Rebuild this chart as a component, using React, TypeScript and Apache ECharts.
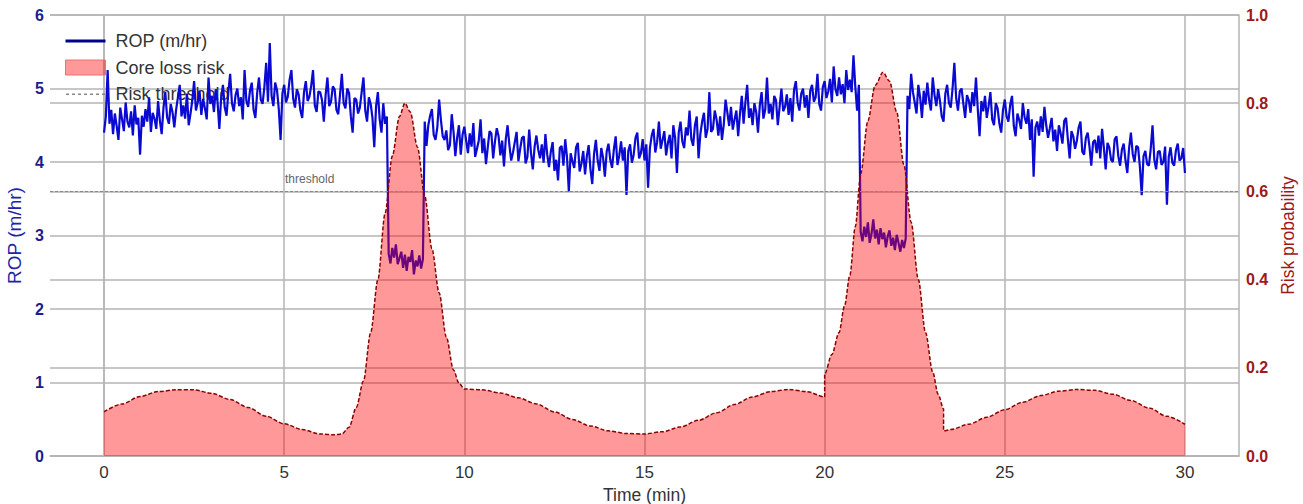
import React, { useEffect, useRef } from "react";
import * as echarts from "echarts";

// ROP samples every 0.05 min, split in segments (m/hr)
const ROP_STEP = 0.05;
const ropBefore1 = [
  4.40, 4.62, 5.25, 4.52, 4.71, 4.38, 4.66, 4.49, 4.30, 4.74,
  4.58, 4.42, 4.81, 4.55, 4.47, 4.69, 4.36, 4.77, 4.51, 4.60,
  4.10, 4.63, 4.48, 4.72, 4.55, 4.88, 4.41, 4.67, 4.59, 4.45,
  4.83, 4.56, 4.38, 4.74, 4.95, 4.61, 4.52, 4.79, 4.68, 4.47,
  4.71, 4.88, 5.05, 4.62, 4.77, 4.59, 4.93, 4.50, 4.66, 4.84,
  5.10, 4.70, 4.81, 4.97, 4.64, 4.86, 4.73, 4.58, 5.15, 4.79,
  4.90, 4.68, 4.99, 4.82, 4.45, 4.87, 5.05, 4.74, 4.63, 4.95,
  5.20, 4.80, 4.69, 4.91, 5.00, 4.76, 4.88, 4.58, 5.25, 4.83,
  4.75, 4.97, 5.08, 4.71, 4.60, 4.94, 5.15, 4.85, 4.79, 5.02,
  5.35, 4.82, 5.62, 4.90, 4.76, 5.08, 4.98, 4.72, 4.30, 4.93,
  5.05, 4.81, 4.89, 5.12, 5.25, 4.86, 4.74, 4.99, 4.92, 4.70,
  4.60, 4.95, 5.10, 4.83, 4.89, 5.04, 5.25, 4.77, 4.68, 4.96,
  4.95, 4.84, 4.55, 4.91, 5.15, 4.76, 4.82, 5.03, 4.99, 4.71,
  4.65, 4.92, 5.20, 4.80, 4.73, 5.00, 4.94, 4.62, 4.40, 4.87,
  4.85, 4.66, 4.74, 4.95, 5.15, 4.70, 4.55, 4.88, 4.79, 4.60,
  4.20, 4.76, 4.95, 4.58, 4.40, 4.80, 4.52, 4.62,
];
const ropDip1 = [
  2.75, 2.62, 2.83, 2.70, 2.88, 2.61, 2.69, 2.78, 2.56, 2.74,
  2.52, 2.71, 2.64, 2.80, 2.47, 2.66, 2.58, 2.73, 2.55, 2.68,
];
const ropMid = [
  4.55, 4.22, 4.50, 4.63, 4.72, 4.37, 4.30, 4.47, 4.85, 4.57,
  4.35, 4.30, 4.43, 4.16, 4.23, 4.65, 4.41, 4.08, 4.33, 4.50,
  4.10, 4.37, 4.48, 4.29, 4.12, 4.39, 4.21, 4.53, 4.07, 4.18,
  4.29, 4.58, 4.12, 4.32, 3.97, 4.20, 4.42, 4.39, 4.05, 4.28,
  4.46, 4.35, 4.09, 4.29, 3.94, 4.31, 4.50, 4.23, 4.02, 4.13,
  4.27, 4.41, 4.01, 4.18, 4.33, 4.35, 3.98, 4.07, 4.44, 4.12,
  3.90, 4.21, 4.36, 4.17, 4.05, 4.24, 3.99, 4.38, 4.10, 3.93,
  4.14, 4.27, 3.88, 4.03, 3.75, 4.19, 4.22, 3.95, 4.31, 4.06,
  3.60, 4.12, 4.01, 3.92, 4.20, 4.26, 3.87, 3.98, 4.15, 3.83,
  4.08, 4.23, 3.90, 3.70, 4.11, 4.30, 4.02, 3.88, 4.19, 4.06,
  3.80, 4.14, 4.25, 4.03, 3.92, 4.17, 4.35, 3.96, 4.09, 4.28,
  4.02, 4.20, 3.55, 4.15, 4.24, 3.99, 4.10, 4.33, 4.40, 4.05,
  4.12, 4.31, 4.02, 4.24, 3.65, 4.19, 4.36, 4.45, 4.13, 4.27,
  4.55, 4.18, 4.30, 4.42, 4.09, 4.26, 4.37, 4.05, 4.50, 4.33,
  3.85, 4.40, 4.55, 4.28, 4.19, 4.47, 4.36, 4.70, 4.31, 4.22,
  4.50, 4.62, 4.05, 4.38, 4.55, 4.67, 4.33, 4.45, 4.95, 4.41,
  4.45, 4.70, 4.58, 4.36, 4.62, 4.30, 4.51, 4.85, 4.67, 4.49,
  4.75, 4.44, 4.58, 4.70, 4.35, 4.66, 4.90, 4.52, 4.81, 5.05,
  4.60, 4.73, 4.50, 4.80, 4.68, 4.40, 4.77, 4.95, 4.59, 4.71,
  5.15, 4.66, 4.79, 4.58, 4.90, 4.84, 4.50, 4.75, 5.00, 4.69,
  4.75, 4.92, 4.64, 4.87, 4.55, 4.98, 5.10, 4.81, 4.70, 4.93,
  5.00, 4.74, 4.91, 4.60, 4.97, 5.05, 4.82, 4.88, 5.20, 4.79,
  4.70, 5.02, 5.10, 4.87, 4.96, 5.13, 4.81, 5.30, 4.99, 4.90,
  5.15, 4.92, 5.06, 4.80, 5.25, 4.98, 5.12, 4.95, 5.45, 5.03,
  4.70, 5.05,
];
const ropDip2 = [
  3.05, 2.92, 3.12, 2.98, 3.18, 2.90, 3.02, 3.22, 2.96, 3.08,
  2.88, 3.10, 2.95, 3.04, 2.84, 2.99, 3.07, 2.86, 2.97, 2.80,
  3.01, 2.90, 2.78, 2.94, 2.83, 2.96,
];
const ropAfter2 = [
  4.90, 4.72, 5.20, 4.95, 4.81, 4.66, 5.05, 4.88, 4.60, 4.97,
  4.78, 5.08, 4.84, 4.70, 5.15, 4.91, 4.76, 4.99, 4.83, 4.62,
  4.55, 4.93, 5.05, 4.80, 4.74, 5.00, 5.35, 4.87, 4.70, 4.96,
  5.00, 4.79, 4.60, 4.91, 4.84, 4.67, 4.95, 4.76, 5.15, 4.72,
  4.35, 4.83, 4.69, 4.90, 4.60, 4.76, 4.95, 4.58, 4.50, 4.80,
  4.73, 4.52, 4.40, 4.71, 4.85, 4.62, 4.55, 4.78, 4.90, 4.49,
  4.35, 4.66, 4.57, 4.45, 4.80, 4.61, 4.52, 4.72, 4.30, 4.58,
  3.80, 4.47, 4.55, 4.36, 4.62, 4.41, 4.75, 4.50, 4.33, 4.46,
  4.60, 4.28, 4.44, 4.15, 4.50, 4.39, 4.25, 4.56, 4.60, 4.31,
  4.05, 4.42, 4.35, 4.18, 4.29, 4.47, 4.55, 4.14, 4.10, 4.33,
  4.40, 4.21, 3.95, 4.27, 4.30, 4.12, 4.36, 4.05, 4.45, 4.19,
  3.90, 4.26, 4.20, 4.03, 4.00, 4.31, 4.35, 4.08, 3.95, 4.17,
  4.25, 4.02, 3.85, 4.19, 4.40, 4.11, 4.00, 4.22, 4.20, 3.93,
  3.55, 4.08, 4.15, 3.97, 3.95, 4.18, 4.50, 4.03, 3.90, 4.14,
  4.15, 3.96, 4.00, 4.21, 3.42, 4.07, 4.20, 3.99, 3.95, 4.16,
  4.25, 4.02, 4.05, 4.19, 3.85,
];

// Core loss risk probability (right axis)
const riskTimes = [
  0, 0.5, 1, 1.5, 2, 2.5, 3, 3.5, 4, 4.5, 5, 5.5, 6, 6.4, 6.6, 6.8,
  7.0, 7.2, 7.4, 7.6, 7.8, 8.0, 8.2, 8.35, 8.5, 8.7, 8.9, 9.1, 9.3, 9.5, 9.7, 9.85,
  10.0, 10.5, 11, 11.5, 12, 12.5, 13, 13.5, 14, 14.5, 15, 15.5, 16, 16.5, 17, 17.5,
  18, 18.5, 19, 19.5, 20, 20, 20.2, 20.4, 20.55, 20.7, 20.85, 21.0, 21.2, 21.4, 21.62,
  21.8, 22.0, 22.2, 22.4, 22.6, 22.8, 23.0, 23.15, 23.3, 23.3, 23.5, 24, 24.5, 25,
  25.5, 26, 26.5, 27, 27.5, 28, 28.5, 29, 29.5, 30,
];
const riskValues = [
  0.100, 0.118, 0.135, 0.146, 0.150, 0.150, 0.142, 0.128, 0.110, 0.090, 0.073, 0.060, 0.050, 0.048, 0.050, 0.065,
  0.11, 0.17, 0.28, 0.40, 0.55, 0.68, 0.77, 0.80, 0.78, 0.70, 0.59, 0.47, 0.37, 0.27, 0.195, 0.165,
  0.152, 0.150, 0.143, 0.132, 0.118, 0.100, 0.083, 0.068, 0.057, 0.051, 0.050, 0.055, 0.066, 0.081, 0.098, 0.117,
  0.134, 0.146, 0.151, 0.146, 0.134, 0.186, 0.23, 0.28, 0.34, 0.41, 0.52, 0.64, 0.76, 0.84, 0.87,
  0.85, 0.78, 0.66, 0.53, 0.40, 0.28, 0.19, 0.14, 0.107, 0.057, 0.060, 0.072, 0.088, 0.105,
  0.122, 0.137, 0.147, 0.151, 0.149, 0.140, 0.126, 0.109, 0.090, 0.072,
];
const riskThreshold = 0.6;

const xTicks = [0, 5, 10, 15, 20, 25, 30];
const seriesNames = ["ROP (m/hr)", "Core loss risk", "Risk threshold"];

const FONT = "Liberation Sans";

export default function App() {
  const ref = useRef<HTMLDivElement>(null);
  useEffect(() => {
    if (!ref.current) return;
    const chart = echarts.init(ref.current, null, { renderer: "svg" });
    const rop = [...ropBefore1, ...ropDip1, ...ropMid, ...ropDip2, ...ropAfter2];
    const ropData = rop.map((v, i) => [Math.round(i * ROP_STEP * 100) / 100, v]);
    const riskData = riskTimes.map((t, i) => [t, riskValues[i]]);
    const gridColor = "#b4b4b4";
    chart.setOption({
      animation: false,
      textStyle: { fontFamily: FONT },
      grid: { left: 50, right: 64, top: 15, bottom: 48, containLabel: false, outerBoundsMode: "none" },
      legend: {
        left: 60,
        top: 27,
        orient: "vertical",
        z: 1,
        itemWidth: 40,
        itemHeight: 15,
        itemGap: 8.5,
        textStyle: { fontSize: 18, color: "#333", fontFamily: FONT, padding: [0, 0, 0, 5] },
        data: [
          { name: seriesNames[0], icon: "path://M0,6 L40,6 L40,9 L0,9 Z", itemStyle: { color: "#00008b" } },
          { name: seriesNames[1], icon: "rect", itemStyle: { color: "rgba(255,0,0,0.4)", borderColor: "#f07070", borderWidth: 1 } },
          {
            name: seriesNames[2],
            icon: "path://M0,7h3v1.6h-3z M6,7h3v1.6h-3z M12,7h3v1.6h-3z M18,7h3v1.6h-3z M24,7h3v1.6h-3z M30,7h3v1.6h-3z M36,7h3v1.6h-3z M0,0h0.01v15h-0.01z",
            itemStyle: { color: "#888" },
          },
        ],
      },
      xAxis: {
        type: "value",
        min: -1.5,
        max: 31.5,
        name: "Time (min)",
        nameLocation: "middle",
        nameGap: 24,
        nameTextStyle: { fontSize: 17.5, color: "#333", fontFamily: FONT },
        axisLine: { show: true, lineStyle: { color: gridColor, width: 1.5 } },
        axisTick: { show: false, customValues: xTicks },
        axisLabel: { customValues: xTicks, fontSize: 17, color: "#333", margin: 8, fontFamily: FONT },
        splitLine: { show: true, lineStyle: { color: gridColor, width: 1.5 } },
      },
      yAxis: [
        {
          type: "value",
          min: 0,
          max: 6,
          interval: 1,
          name: "ROP (m/hr)",
          nameLocation: "middle",
          nameGap: 21,
          nameTextStyle: { fontSize: 19, color: "#2323a8", fontFamily: FONT },
          axisLine: { show: true, lineStyle: { color: gridColor, width: 1.5 } },
          axisTick: { show: false },
          axisLabel: { fontSize: 16, color: "#1c1c90", fontWeight: "bold", margin: 6, fontFamily: FONT },
          splitLine: { show: true, lineStyle: { color: gridColor, width: 1.5 } },
        },
        {
          type: "value",
          min: 0,
          max: 1,
          interval: 0.2,
          name: "Risk probability",
          nameLocation: "middle",
          nameGap: 31,
          nameTextStyle: { fontSize: 17.5, color: "#a01818", fontFamily: FONT },
          axisLine: { show: true, lineStyle: { color: gridColor, width: 1.5 } },
          axisTick: { show: false },
          axisLabel: {
            fontSize: 16,
            color: "#a01818",
            fontWeight: "bold",
            margin: 7,
            fontFamily: FONT,
            formatter: (v: number) => v.toFixed(1),
          },
          splitLine: { show: true, lineStyle: { color: gridColor, width: 1.5 } },
        },
      ],
      series: [
        {
          name: seriesNames[0],
          type: "line",
          yAxisIndex: 0,
          data: ropData,
          symbol: "none",
          z: 2,
          lineStyle: { color: "#0a0ad2", width: 2.2 },
          itemStyle: { color: "#00008b" },
        },
        {
          name: seriesNames[1],
          type: "line",
          yAxisIndex: 1,
          data: riskData,
          symbol: "none",
          smooth: 0.3,
          smoothMonotone: "x",
          z: 3,
          lineStyle: { color: "#8b0000", width: 1.5, type: [4, 2] },
          areaStyle: { color: "rgba(255,0,0,0.4)", opacity: 1 },
          itemStyle: { color: "rgba(255,0,0,0.4)" },
        },
        {
          name: seriesNames[2],
          type: "line",
          yAxisIndex: 1,
          data: [],
          symbol: "none",
          z: 4,
          lineStyle: { color: "#888", width: 1.2, type: [3, 2] },
          itemStyle: { color: "#999" },
          markLine: {
            silent: true,
            symbol: "none",
            lineStyle: { color: "#888", width: 1.2, type: [3, 2] },
            label: {
              show: true,
              formatter: "threshold",
              position: "insideStartTop",
              distance: [235, 6],
              fontSize: 12,
              color: "#666",
              fontFamily: FONT,
            },
            data: [{ yAxis: riskThreshold }],
          },
        },
      ],
    });
    return () => chart.dispose();
  }, []);
  return (
    <div
      ref={ref}
      style={{ position: "fixed", left: 0, top: 0, width: 1303, height: 504, background: "#fff" }}
    />
  );
}
